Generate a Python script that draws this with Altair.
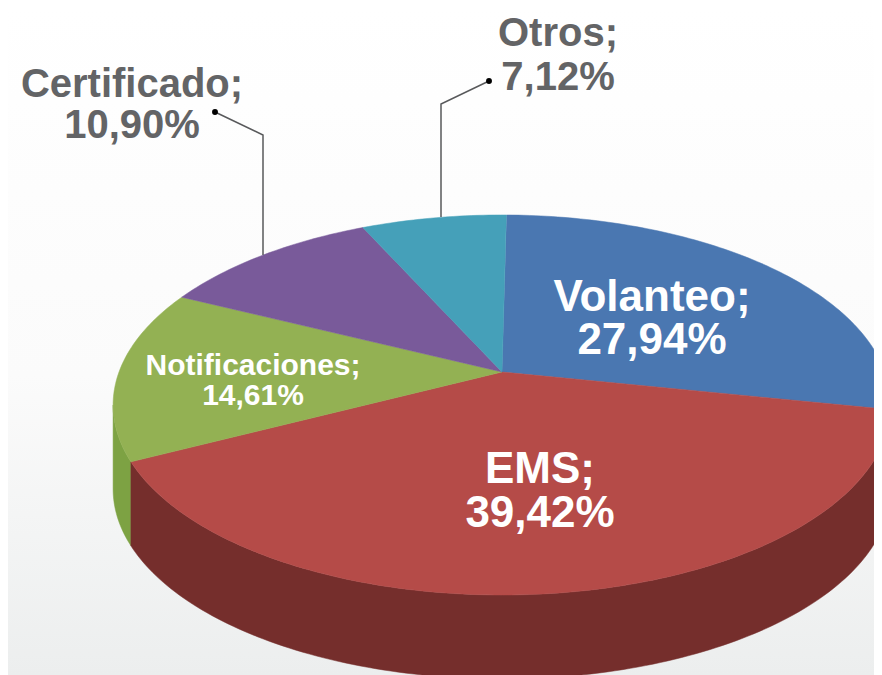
import math
import altair as alt
import pandas as pd

categories = ["Volanteo", "EMS", "Notificaciones", "Certificado", "Otros"]
values = [27.94, 39.42, 14.61, 10.90, 7.12]
top_colors = ["#4a77b1", "#b54b48", "#93b153", "#795a9a", "#45a0b9"]
side_colors = ["#35598a", "#752e2c", "#7da243", "#5a4375", "#33788c"]

text_labels = ["Volanteo;\n27,94%", "EMS;\n39,42%", "Notificaciones;\n14,61%",
               "Certificado;\n10,90%", "Otros;\n7,12%"]
text_x = [652, 540, 253, 132, 558]
text_y = [311, 483, 375, 97, 46]
text_size = [44, 44, 30, 40, 40]
text_line_height = [43, 44, 30, 41, 44]
text_color = ["#ffffff", "#ffffff", "#ffffff", "#636466", "#636466"]

leader_cert_x = [215, 263, 263]
leader_cert_y = [112, 135, 255]
leader_otros_x = [489, 441, 441]
leader_otros_y = [81, 104, 217]

X0, Y0, A, B, K, DEPTH, START = 502, 372, 383, 184.3, 0.1736, 84, 0.8
SIL_R, SIL_L = 100.0, 260.0


def project(deg, shift=0):
    t = math.radians(deg)
    u, v = math.sin(t), -math.cos(t)
    d = 1 - K * v
    return X0 + A * u / d, Y0 + B * v / d + shift


def arc_angles(a, b):
    n = max(2, int(abs(b - a)))
    return [a + (b - a) * i / n for i in range(n + 1)]


x_scale = alt.Scale(domain=[8, 874], range=[0, 866], nice=False, zero=False)
y_scale = alt.Scale(domain=[8, 675], range=[0, 667], nice=False, zero=False)


def polygon(points, colour):
    df = pd.DataFrame(points, columns=["x", "y"])
    df["i"] = range(len(df))
    return alt.Chart(df).mark_line(fill=colour, stroke=colour, strokeWidth=0.5, clip=True, interpolate="linear-closed").encode(
        x=alt.X("x:Q", scale=x_scale, axis=None),
        y=alt.Y("y:Q", scale=y_scale, axis=None),
        order="i:Q",
    )


bounds = []
start = START
for val in values:
    bounds.append((start, start + val * 3.6))
    start += val * 3.6

background = alt.Chart(pd.DataFrame({"x": [8], "x2": [874], "y": [8], "y2": [675]})).mark_rect(
    fill=alt.Gradient(
        gradient="linear", x1=0, y1=0, x2=0, y2=1,
        stops=[alt.GradientStop(offset=0, color="#ffffff"),
               alt.GradientStop(offset=0.55, color="#fbfbfb"),
               alt.GradientStop(offset=1, color="#eceeee")],
    )
).encode(
    x=alt.X("x:Q", scale=x_scale, axis=None), x2="x2:Q",
    y=alt.Y("y:Q", scale=y_scale, axis=None), y2="y2:Q",
)

layers = [background]

# sides: only the part of each slice's rim between the two silhouette angles shows
for idx in [0, 2, 1]:
    a, b = bounds[idx]
    a, b = max(a, SIL_R), min(b, SIL_L)
    angles = arc_angles(a, b)
    front = [project(t) for t in angles]
    back = [project(t, DEPTH) for t in reversed(angles)]
    layers.append(polygon(front + back, side_colors[idx]))

# top surface
for idx, (a, b) in enumerate(bounds):
    pts = [(X0, Y0)] + [project(t) for t in arc_angles(a, b)]
    layers.append(polygon(pts, top_colors[idx]))

for lx, ly in [(leader_cert_x, leader_cert_y), (leader_otros_x, leader_otros_y)]:
    df = pd.DataFrame({"x": lx, "y": ly, "i": range(len(lx))})
    layers.append(alt.Chart(df).mark_line(color="#58595b", strokeWidth=1.5).encode(
        x=alt.X("x:Q", scale=x_scale, axis=None),
        y=alt.Y("y:Q", scale=y_scale, axis=None),
        order="i:Q",
    ))
    layers.append(alt.Chart(df.iloc[:1]).mark_point(filled=True, color="#000000", size=35, opacity=1).encode(
        x=alt.X("x:Q", scale=x_scale, axis=None),
        y=alt.Y("y:Q", scale=y_scale, axis=None),
    ))

for label, tx, ty, ts, lh, tc in zip(text_labels, text_x, text_y, text_size, text_line_height, text_color):
    df = pd.DataFrame({"t": [label], "x": [tx], "y": [ty]})
    layers.append(alt.Chart(df).mark_text(
        font="Liberation Sans", fontWeight="bold", fontSize=ts, color=tc,
        align="center", baseline="alphabetic", lineBreak="\n", lineHeight=lh,
    ).encode(
        x=alt.X("x:Q", scale=x_scale, axis=None),
        y=alt.Y("y:Q", scale=y_scale, axis=None),
        text="t:N",
    ))

chart = alt.layer(*layers).properties(
    width=866, height=667, padding=0, background="#ffffff"
).configure_view(stroke=None)

chart.save("out.html", embed_options={"renderer": "svg", "actions": False})
